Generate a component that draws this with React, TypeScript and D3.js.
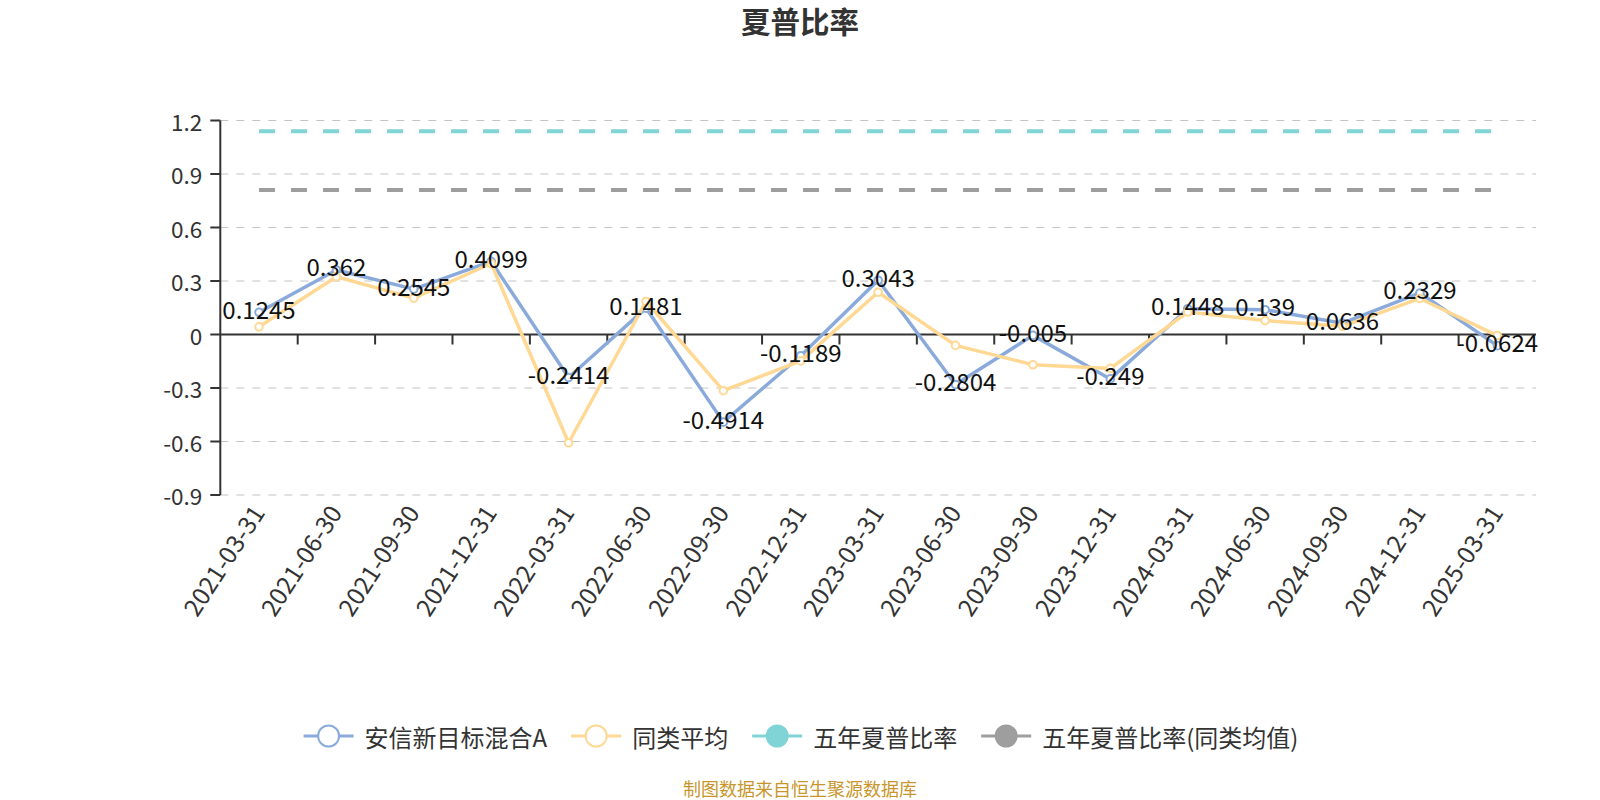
import React, { useEffect, useRef } from "react";
import * as d3 from "d3";

const categories = [
  "2021-03-31", "2021-06-30", "2021-09-30", "2021-12-31",
  "2022-03-31", "2022-06-30", "2022-09-30", "2022-12-31",
  "2023-03-31", "2023-06-30", "2023-09-30", "2023-12-31",
  "2024-03-31", "2024-06-30", "2024-09-30", "2024-12-31",
  "2025-03-31",
];
const fundSharpe = [
  0.1245, 0.362, 0.2545, 0.4099, -0.2414, 0.1481, -0.4914, -0.1189,
  0.3043, -0.2804, -0.005, -0.249, 0.1448, 0.139, 0.0636, 0.2329, -0.0624,
];
const peerSharpe = [
  0.043, 0.324, 0.204, 0.398, -0.607, 0.185, -0.315, -0.148,
  0.237, -0.061, -0.17, -0.19, 0.126, 0.078, 0.046, 0.202, -0.006,
];
const fiveYearFund = 1.14;
const fiveYearPeer = 0.81;
const yTicks = [-0.9, -0.6, -0.3, 0, 0.3, 0.6, 0.9, 1.2];
const legendNames = ["安信新目标混合A", "同类平均", "五年夏普比率", "五年夏普比率(同类均值)"];

const BLUE = "#8aaadb";
const YELLOW = "#ffd894";
const CYAN = "#80d4d6";
const GRAY = "#9e9e9e";
const FONT = "'Noto Sans CJK SC', 'Noto Sans', sans-serif";

const width = 1600;
const height = 800;
const left = 220.3;
const right = 1536;
const top = 120.5;
const bottom = 495;

const App = () => {
  const ref = useRef(null);

  useEffect(() => {
    const svg = d3.select(ref.current);
    svg.selectAll("*").remove();
    svg.attr("font-family", FONT);

    const x = d3.scaleBand(categories, [left, right]);
    const cx = (d) => x(d) + x.bandwidth() / 2;
    const y = d3.scaleLinear([-0.9, 1.2], [bottom, top]);

    // title
    svg.append("text")
      .attr("x", 800).attr("y", 33)
      .attr("text-anchor", "middle")
      .attr("font-size", 29.5).attr("font-weight", "bold")
      .attr("fill", "#333")
      .text("夏普比率");

    // grid
    svg.append("g")
      .selectAll("line")
      .data(yTicks.filter((t) => t !== 0))
      .join("line")
      .attr("x1", left).attr("x2", right)
      .attr("y1", (d) => y(d)).attr("y2", (d) => y(d))
      .attr("stroke", "#c4c4c4")
      .attr("stroke-dasharray", "8 8");

    // y axis
    const yAxis = svg.append("g");
    yAxis.append("line")
      .attr("x1", left).attr("x2", left)
      .attr("y1", top).attr("y2", bottom)
      .attr("stroke", "#333").attr("stroke-width", 2);
    yAxis.selectAll(".tk")
      .data(yTicks)
      .join("line")
      .attr("class", "tk")
      .attr("x1", left - 10).attr("x2", left)
      .attr("y1", (d) => y(d)).attr("y2", (d) => y(d))
      .attr("stroke", "#333").attr("stroke-width", 2);
    yAxis.selectAll("text")
      .data(yTicks)
      .join("text")
      .attr("x", left - 18)
      .attr("y", (d) => y(d))
      .attr("text-anchor", "end")
      .attr("dominant-baseline", "central")
      .attr("font-size", 22.5)
      .attr("fill", "#333")
      .text((d) => String(d));

    // x axis on zero
    const xAxis = svg.append("g");
    xAxis.append("line")
      .attr("x1", left).attr("x2", right)
      .attr("y1", y(0)).attr("y2", y(0))
      .attr("stroke", "#333").attr("stroke-width", 2);
    xAxis.selectAll(".tk")
      .data(categories.slice(1))
      .join("line")
      .attr("class", "tk")
      .attr("x1", (d) => x(d)).attr("x2", (d) => x(d))
      .attr("y1", y(0)).attr("y2", y(0) + 10)
      .attr("stroke", "#333").attr("stroke-width", 2);
    xAxis.selectAll("text")
      .data(categories)
      .join("text")
      .attr("transform", (d) => `translate(${cx(d) - 2},${bottom + 12}) rotate(-57)`)
      .attr("text-anchor", "end")
      .attr("dominant-baseline", "central")
      .attr("font-size", 24.5)
      .attr("fill", "#333")
      .text((d) => d);

    // five-year reference lines
    const first = categories[0];
    const last = categories[categories.length - 1];
    [[fiveYearFund, CYAN], [fiveYearPeer, GRAY]].forEach(([v, c]) => {
      svg.append("line")
        .attr("x1", cx(first)).attr("x2", cx(last))
        .attr("y1", y(v)).attr("y2", y(v))
        .attr("stroke", c).attr("stroke-width", 4)
        .attr("stroke-dasharray", "16 16");
    });

    const line = d3.line()
      .x((d, i) => cx(categories[i]))
      .y((d) => y(d));

    [[fundSharpe, BLUE], [peerSharpe, YELLOW]].forEach(([vals, c]) => {
      const g = svg.append("g");
      g.append("path")
        .attr("d", line(vals))
        .attr("fill", "none")
        .attr("stroke", c)
        .attr("stroke-width", 3.5)
        .attr("stroke-linejoin", "round");
      g.selectAll("circle")
        .data(vals)
        .join("circle")
        .attr("cx", (d, i) => cx(categories[i]))
        .attr("cy", (d) => y(d))
        .attr("r", 3.8)
        .attr("fill", "#fff")
        .attr("stroke", c)
        .attr("stroke-width", 2);
    });

    // data labels of the fund
    svg.append("g")
      .selectAll("text")
      .data(fundSharpe)
      .join("text")
      .attr("x", (d, i) => cx(categories[i]))
      .attr("y", (d) => y(d) - 4)
      .attr("text-anchor", "middle")
      .attr("dominant-baseline", "central")
      .attr("font-size", 24)
      .attr("fill", "#111")
      .text((d) => String(d));

    // legend
    const legend = svg.append("g");
    const legendColors = [BLUE, YELLOW, CYAN, GRAY];
    let lx = 0;
    legendNames.forEach((name, i) => {
      const c = legendColors[i];
      const item = legend.append("g").attr("transform", `translate(${lx},0)`);
      item.append("line")
        .attr("x1", 0).attr("x2", 50)
        .attr("stroke", c).attr("stroke-width", 3);
      item.append("circle")
        .attr("cx", 25).attr("r", 10.5)
        .attr("fill", i < 2 ? "#fff" : c)
        .attr("stroke", c).attr("stroke-width", 2);
      const t = item.append("text")
        .attr("x", 61)
        .attr("dominant-baseline", "central")
        .attr("font-size", 24)
        .attr("fill", "#333")
        .text(name);
      lx += 61 + t.node().getComputedTextLength() + 24;
    });
    const legendWidth = lx - 24;
    legend.attr("transform", `translate(${801 - legendWidth / 2},736)`);

    // source note
    svg.append("text")
      .attr("x", 800).attr("y", 796)
      .attr("text-anchor", "middle")
      .attr("font-size", 18)
      .attr("fill", "#c8962d")
      .text("制图数据来自恒生聚源数据库");
  }, []);

  return (
    <svg
      ref={ref}
      width={width}
      height={height}
      style={{ position: "absolute", left: 0, top: 0, background: "#fff" }}
    />
  );
};

export default App;
